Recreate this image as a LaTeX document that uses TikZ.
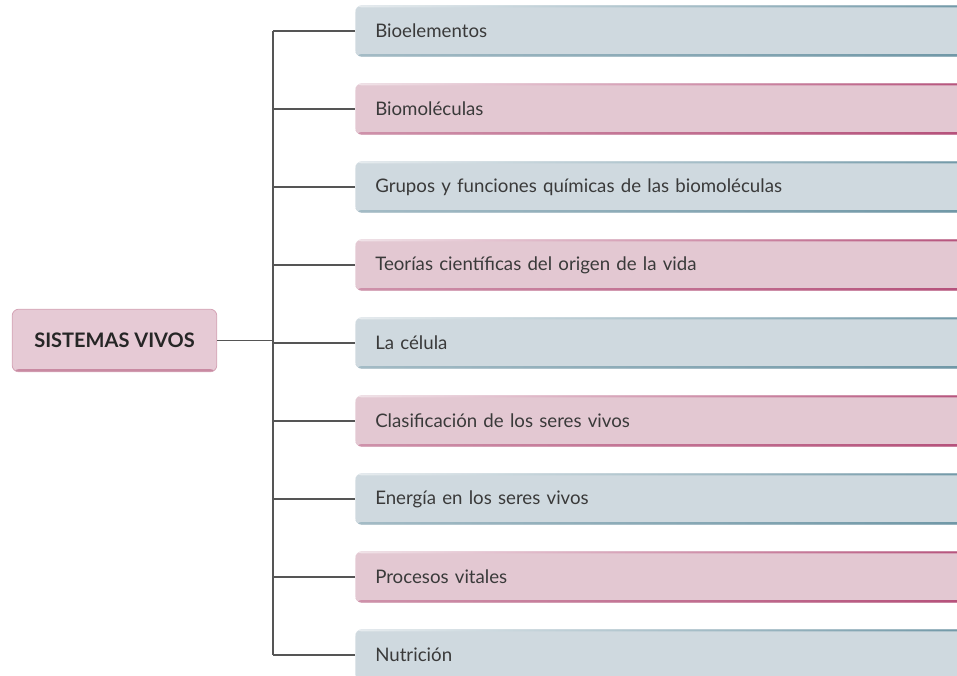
\documentclass[tikz,border=0pt]{standalone}
\usepackage{fontspec}
\setmainfont{Lato}
\usetikzlibrary{positioning}
\definecolor{bluefill}{HTML}{CFD9DF}
\definecolor{blueline}{HTML}{6F97A6}
\definecolor{pinkfill}{HTML}{E3C8D2}
\definecolor{pinkline}{HTML}{B5507A}
\definecolor{rootfill}{HTML}{E6CAD5}
\definecolor{rootline}{HTML}{C98AA2}
\definecolor{linkgray}{HTML}{555555}
\definecolor{textgray}{HTML}{3A3A3A}

\begin{document}
\begin{tikzpicture}[x=0.75pt, y=-0.75pt,
  link/.style={draw=linkgray, line width=1.1pt},
  topic/.style={fill=#1fill, rounded corners=5pt, anchor=west,
    minimum height=38.5pt, inner xsep=15pt, text width=435pt, align=left,
    font=\fontsize{14}{16}\selectfont, text=textgray,
    path picture={
      \shade[left color=#1fill!50!white, right color=#1line]
        (path picture bounding box.north west) rectangle ([yshift=-1.6pt]path picture bounding box.north east);
      \shade[left color=#1line!45!#1fill, right color=#1line]
        ([yshift=2pt]path picture bounding box.south west) rectangle (path picture bounding box.south east);
    }},
  root/.style={fill=rootfill, draw=rootline!60!rootfill, line width=0.6pt, rounded corners=5pt,
    minimum width=153.5pt, minimum height=47pt,
    font=\fontsize{15}{17}\selectfont\bfseries, text=black!85,
    path picture={
      \fill[rootline] ([yshift=2pt]path picture bounding box.south west) rectangle (path picture bounding box.south east);
    }}]
\useasboundingbox (0,0) rectangle (957,675);
\clip (0,0) rectangle (957,675);

% root
\node[root] (sv) at (114.5,340.5) {SISTEMAS VIVOS};
\coordinate (trunk) at (273,340.5);

% topics
\foreach \i/\y/\lbl/\col in {
    1/31/{Bioelementos}/blue,
    2/109/{Biomoléculas}/pink,
    3/187/{Grupos y funciones químicas de las biomoléculas}/blue,
    4/265/{Teorías científicas del origen de la vida}/pink,
    5/343/{La célula}/blue,
    6/421/{Clasificación de los seres vivos}/pink,
    7/499/{Energía en los seres vivos}/blue,
    8/577/{Procesos vitales}/pink,
    9/655/{Nutrición}/blue}{
  \node[topic=\col] (t\i) at (355,\y) {\lbl};
  \draw[link] (t\i.west) -- (t\i.west -| trunk);
}

% connectors
\draw[link] (sv.east) -- (trunk);
\draw[link] (t1.west -| trunk) -- (t9.west -| trunk);
\end{tikzpicture}
\end{document}
